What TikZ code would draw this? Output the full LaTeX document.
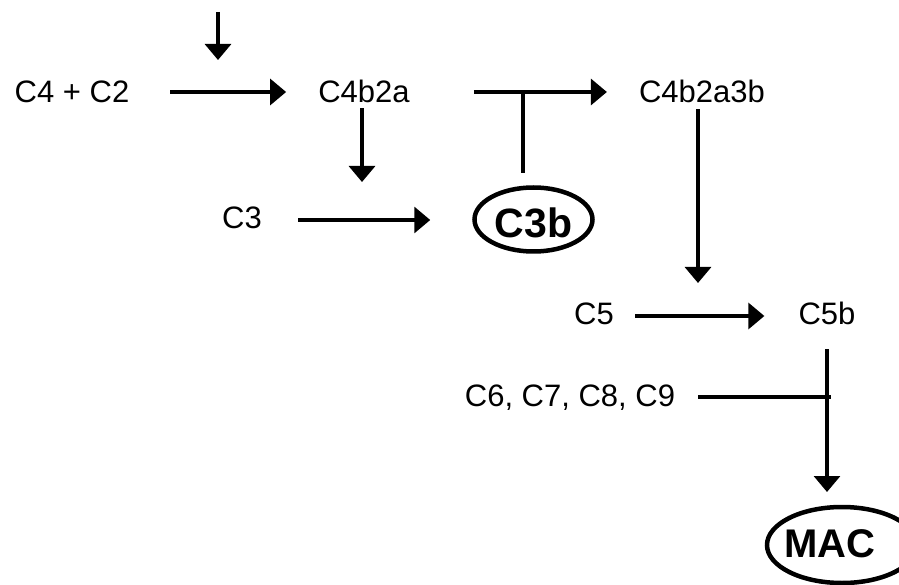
\documentclass[tikz,border=0pt]{standalone}
\usepackage{fontspec}
\setmainfont{Liberation Sans}
\usetikzlibrary{arrows.meta,shapes.geometric,calc}
\begin{document}
\begin{tikzpicture}[x=1pt,y=-1pt,
  lbl/.style={inner sep=0pt,font=\fontsize{31}{36}\selectfont,text height=22pt,text depth=0pt},
  oval/.style={ellipse,draw,line width=4.5pt,inner sep=0pt,font=\fontsize{41}{46}\selectfont\bfseries},
  arr/.style={line width=3.2pt,-{Triangle[length=16pt,width=26pt]}},
  ln/.style={line width=3.2pt}]
\useasboundingbox (0,0) rectangle (899,585);
\node[lbl] (c4c2) at (72,92) {C4 + C2};
\node[lbl] (c4b2a) at (364,92) {C4b2a};
\node[lbl] (c3) at (242,218) {C3};
\node[oval,minimum width=118pt,minimum height=64pt,text height=37pt,text depth=0pt] (c3b) at (533.5,219.5) {C3b};
\node[lbl] (c4b2a3b) at (702,92) {C4b2a3b};
\node[lbl] (c5) at (594,313) {C5};
\node[lbl] (c5b) at (827,313) {C5b};
\node[lbl] (c6789) at (570,395) {C6, C7, C8, C9};
\node[oval,minimum width=150pt,minimum height=76pt,font=\fontsize{40}{44}\selectfont\bfseries,text height=31pt,text depth=6pt] (mac) at (842,545) {\hspace*{-24pt}MAC};
\coordinate (top) at (218,12);
\coordinate (topend) at (218,60);
\coordinate (d1) at (362,182);
\coordinate (tj) at (523,92);
\coordinate (d2) at (698,283);
\coordinate (jn) at (831,397);
\coordinate (d3) at (827,492);
\draw[arr] (top) -- (topend);
\draw[arr] ($(c4c2.east)+(41,0)$) -- ($(c4b2a.west)+(-32,0)$);
\draw[arr] ($(c4b2a.south)+(-2,5)$) -- (d1);
\draw[arr] ($(c3.east)+(36,2)$) -- ($(c3b.west)+(-42,0.5)$);
\draw[arr] ($(c4b2a.east)+(64,0)$) -- ($(c4b2a3b.west)+(-32,0)$);
\draw[ln] ($(c3b.north)+(-10.5,-12.5)$) -- (tj);
\draw[arr] ($(c4b2a3b.south)+(-4,6)$) -- (d2);
\draw[arr] ($(c5.east)+(21,3)$) -- ($(c5b.west)+(-34,3)$);
\draw[arr] ($(c5b.south)+(0,25)$) -- (d3);
\draw[ln] ($(c6789.east)+(23,2)$) -- (jn);
\end{tikzpicture}
\end{document}
